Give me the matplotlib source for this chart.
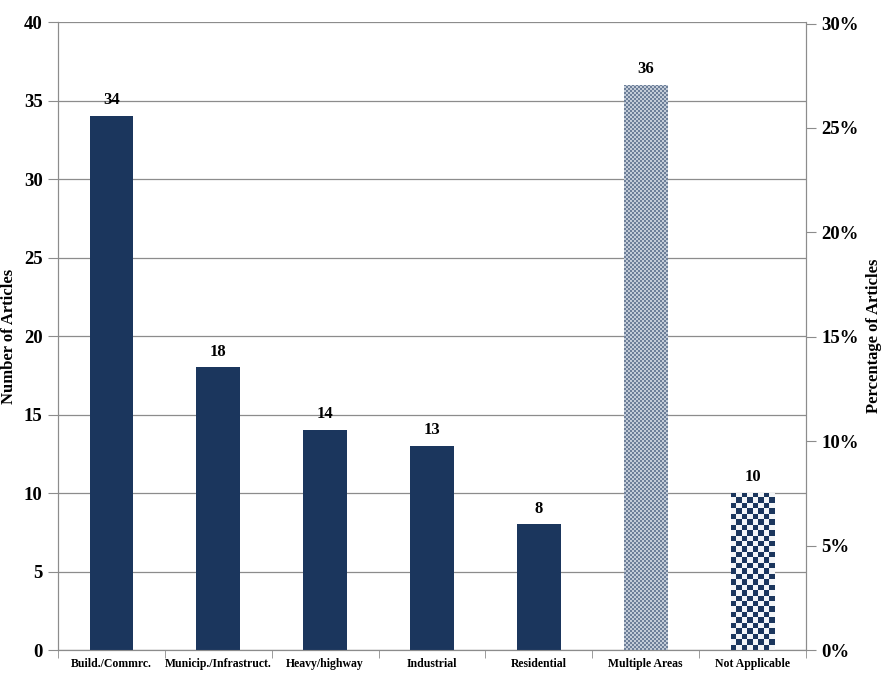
import numpy as np
import matplotlib.pyplot as plt
from matplotlib.ticker import FuncFormatter, MultipleLocator

# data
categories = ['Build./Commrc.', 'Municip./Infrastruct.', 'Heavy/highway', 'Industrial',
              'Residential', 'Multiple Areas', 'Not Applicable']
counts = [34, 18, 14, 13, 8, 36, 10]
total = sum(counts)

plt.rcParams['font.family'] = ['Liberation Serif', 'DejaVu Serif']
plt.rcParams['font.weight'] = 'bold'

navy = '#1b365d'
grid_gray = '#8c8c8c'

fig = plt.figure(figsize=(8.87, 6.75), dpi=100)
ax = fig.add_axes([0.0654, 0.037, 0.8433, 0.9304])

x = np.arange(len(categories))
bars = ax.bar(x, counts, width=0.41, color=navy, zorder=3)

ax.set_xlim(-0.5, len(categories) - 0.5)
ax.set_ylim(0, 40)
ax.yaxis.set_major_locator(MultipleLocator(5))
ax.grid(axis='y', color=grid_gray, linewidth=0.9, zorder=0)
for s in ax.spines.values():
    s.set_color(grid_gray)
ax.spines['top'].set_visible(False)

# category labels centred, ticks at category boundaries
ax.set_xticks(x)
ax.set_xticklabels(categories, fontsize=8.5, fontweight='bold')
ax.tick_params(axis='x', length=0, pad=6)
ax.set_xticks(np.arange(len(categories) + 1) - 0.5, minor=True)
ax.tick_params(axis='x', which='minor', length=6, color=grid_gray, direction='out')
ax.tick_params(axis='y', length=7, color=grid_gray, labelsize=13.5, pad=4)
for lbl in ax.get_yticklabels():
    lbl.set_fontweight('bold')
ax.set_ylabel('Number of Articles', fontsize=12, fontweight='bold', labelpad=5)


def checker(bar, px):
    # checkerboard array and extent covering the bar
    bx, by = bar.get_x(), bar.get_y()
    bw, bh = bar.get_width(), bar.get_height()
    p0 = ax.transData.transform((bx, by))
    p1 = ax.transData.transform((bx + bw, by + bh))
    nx = max(1, int(round((p1[0] - p0[0]) / px)))
    ny = max(1, int(round((p1[1] - p0[1]) / px)))
    pat = (np.add.outer(np.arange(ny), np.arange(nx)) % 2).astype(float)
    return pat, (bx, bx + bw, by, by + bh)


# Multiple Areas: fine light pattern
b5 = bars[5]
b5.set_facecolor('#8898b0')
pat, ext = checker(b5, 2)
cm5 = plt.matplotlib.colors.ListedColormap(['#6d7f99', '#c3ccd8'])
im = ax.imshow(pat, extent=ext, cmap=cm5, interpolation='nearest', aspect='auto', zorder=4)
im.set_clip_path(b5)

# Not Applicable: coarse checkerboard
b6 = bars[6]
pat, ext = checker(b6, 5.5)
cm6 = plt.matplotlib.colors.ListedColormap([navy, '#f4f6f8'])
im = ax.imshow(pat, extent=ext, cmap=cm6, interpolation='nearest', aspect='auto', zorder=4)
im.set_clip_path(b6)

# value labels
for xi, v in zip(x, counts):
    ax.text(xi, v + 0.5, str(v), ha='center', va='bottom', fontsize=12, fontweight='bold', zorder=5)

# right axis as percentage of total
ax2 = ax.twinx()
ax2.set_ylim(0, 40 / total)
ax2.set_yticks(np.arange(0, 0.301, 0.05))
ax2.yaxis.set_major_formatter(FuncFormatter(lambda v, p: f'{v * 100:.0f}%'))
ax2.tick_params(axis='y', length=7, color=grid_gray, labelsize=13.5, pad=4)
for lbl in ax2.get_yticklabels():
    lbl.set_fontweight('bold')
for s in ax2.spines.values():
    s.set_color(grid_gray)
ax2.spines['top'].set_visible(False)
ax2.set_ylabel('Percentage of Articles', fontsize=12, fontweight='bold', labelpad=5)

ax.set_xlim(-0.5, len(categories) - 0.5)
fig.savefig('out.png', dpi=100)
